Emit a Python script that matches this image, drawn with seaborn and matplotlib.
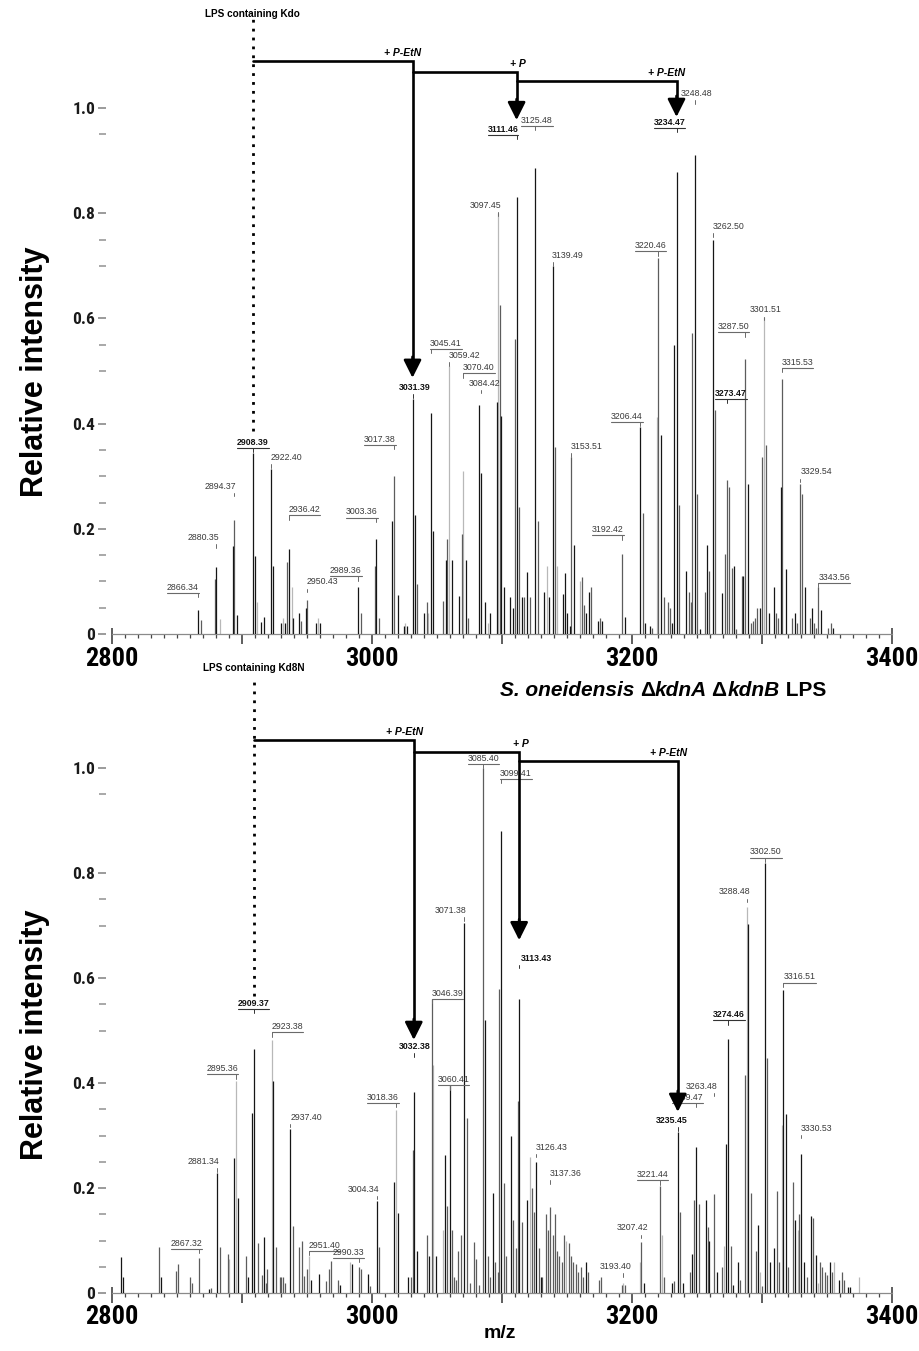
import numpy as np
import pandas as pd
import seaborn as sns
import matplotlib
matplotlib.use("Agg")
import matplotlib.pyplot as plt
from matplotlib import font_manager
from matplotlib.font_manager import FontProperties

# ---------------------------------------------------------------- data ----
# Top spectrum (LPS containing Kdo): m/z, relative intensity, stick tone
top_mz = [2866.34, 2868.5, 2879.2, 2880.35, 2883.0, 2893.4, 2894.37, 2896.6,
          2908.39, 2910.4, 2911.5, 2915.2, 2917.0, 2922.40, 2924.4, 2930.0,
          2931.5, 2933.3, 2935.0, 2936.42, 2938.5, 2939.2, 2944.0, 2946.0,
          2949.5, 2950.43, 2957.2, 2958.8, 2960.3, 2989.36, 2991.4, 3002.2,
          3003.36, 3005.8, 3015.8, 3017.38, 3020.5, 3024.5, 3026.0, 3027.5,
          3031.39, 3033.3, 3034.6, 3040.2, 3042.3, 3043.0, 3045.41, 3047.4,
          3054.6, 3057.0, 3058.3, 3059.42, 3061.8, 3067.4, 3069.3, 3070.40,
          3072.6, 3074.2, 3082.8, 3084.42, 3087.4, 3089.5, 3091.2, 3096.3,
          3097.45, 3098.4, 3099.7, 3102.0, 3106.7, 3108.5, 3110.0, 3111.46,
          3113.5, 3115.8, 3117.5, 3119.7, 3121.8, 3125.48, 3127.8, 3132.5,
          3134.6, 3136.2, 3139.49, 3141.3, 3142.5, 3146.8, 3148.8, 3150.5,
          3152.2, 3153.51, 3155.6, 3160.5, 3161.5, 3163.2, 3164.8, 3166.9,
          3168.7, 3174.0, 3175.5, 3177.2, 3192.42, 3195.2, 3206.44, 3208.4,
          3210.2, 3214.0, 3216.0, 3219.6, 3220.46, 3222.5, 3224.5, 3227.8,
          3229.5, 3231.3, 3232.4, 3234.47, 3236.4, 3242.0, 3244.0, 3245.3,
          3246.4, 3248.48, 3250.2, 3252.2, 3256.5, 3257.8, 3259.6, 3262.50,
          3264.3, 3269.4, 3271.4, 3273.47, 3274.9, 3276.8, 3278.8, 3280.5,
          3284.5, 3285.8, 3287.50, 3289.6, 3291.5, 3293.3, 3295.0, 3296.6,
          3298.5, 3300.0, 3301.51, 3303.4, 3305.3, 3309.1, 3311.0, 3312.5,
          3314.6, 3315.53, 3318.6, 3323.3, 3325.3, 3327.3, 3329.54, 3331.2,
          3333.0, 3337.0, 3338.6, 3340.5, 3342.0, 3343.56, 3345.8, 3351.2,
          3353.0, 3355.0]
top_intensity = [0.046, 0.027, 0.105, 0.127, 0.028, 0.168, 0.217, 0.036,
                 0.345, 0.148, 0.060, 0.023, 0.032, 0.314, 0.130, 0.020,
                 0.030, 0.020, 0.136, 0.161, 0.090, 0.030, 0.040, 0.025,
                 0.050, 0.065, 0.020, 0.030, 0.020, 0.090, 0.040, 0.130,
                 0.181, 0.030, 0.215, 0.300, 0.074, 0.015, 0.020, 0.015,
                 0.446, 0.226, 0.095, 0.040, 0.060, 0.040, 0.421, 0.195,
                 0.063, 0.140, 0.180, 0.510, 0.140, 0.073, 0.190, 0.310,
                 0.140, 0.030, 0.435, 0.307, 0.060, 0.020, 0.040, 0.442,
                 0.800, 0.625, 0.415, 0.090, 0.070, 0.050, 0.560, 0.830,
                 0.242, 0.070, 0.070, 0.117, 0.070, 0.885, 0.215, 0.080,
                 0.130, 0.070, 0.700, 0.356, 0.130, 0.076, 0.116, 0.040,
                 0.015, 0.336, 0.170, 0.100, 0.109, 0.055, 0.040, 0.080,
                 0.089, 0.025, 0.030, 0.025, 0.152, 0.033, 0.393, 0.230,
                 0.020, 0.015, 0.012, 0.413, 0.714, 0.378, 0.070, 0.060,
                 0.050, 0.020, 0.550, 0.878, 0.245, 0.120, 0.080, 0.060,
                 0.573, 0.910, 0.266, 0.010, 0.080, 0.169, 0.120, 0.750,
                 0.425, 0.078, 0.153, 0.293, 0.279, 0.125, 0.130, 0.010,
                 0.110, 0.110, 0.523, 0.286, 0.020, 0.025, 0.030, 0.050,
                 0.050, 0.337, 0.603, 0.360, 0.040, 0.090, 0.040, 0.030,
                 0.279, 0.484, 0.124, 0.030, 0.040, 0.020, 0.285, 0.266,
                 0.090, 0.030, 0.050, 0.020, 0.012, 0.089, 0.046, 0.012,
                 0.020, 0.012]
top_tone = [0, 1, 1, 0, 2, 0, 1, 0,
            0, 0, 2, 0, 0, 0, 0, 0,
            2, 0, 1, 0, 2, 0, 0, 1,
            0, 1, 0, 2, 0, 0, 1, 1,
            0, 1, 0, 1, 0, 0, 2, 0,
            0, 0, 1, 0, 1, 2, 0, 0,
            1, 0, 1, 2, 0, 0, 1, 2,
            0, 1, 0, 0, 0, 2, 0, 0,
            2, 1, 0, 0, 0, 0, 1, 0,
            1, 0, 1, 0, 1, 0, 1, 0,
            2, 0, 0, 1, 2, 0, 0, 0,
            0, 1, 0, 2, 1, 1, 0, 0,
            1, 0, 1, 0, 1, 0, 0, 1,
            0, 0, 1, 2, 1, 0, 1, 1,
            1, 0, 0, 0, 1, 0, 1, 1,
            1, 0, 1, 0, 1, 0, 1, 0,
            1, 0, 1, 1, 1, 1, 0, 1,
            1, 0, 1, 0, 1, 1, 1, 1,
            0, 1, 2, 1, 0, 0, 1, 1,
            0, 1, 0, 1, 0, 1, 1, 1,
            0, 1, 0, 1, 1, 1, 0, 1,
            1, 0]

# Bottom spectrum (LPS containing Kd8N)
bottom_mz = [2807.4, 2809.0, 2836.4, 2838.0, 2849.2, 2851.0, 2859.9, 2861.5,
             2867.32, 2874.5, 2876.3, 2881.34, 2883.0, 2889.2, 2890.5, 2894.3,
             2895.36, 2897.4, 2903.0, 2904.8, 2908.3, 2909.37, 2912.2, 2916.0,
             2917.4, 2918.4, 2919.3, 2923.38, 2924.4, 2926.3, 2929.5, 2930.6,
             2932.0, 2933.3, 2937.40, 2939.2, 2944.3, 2946.2, 2948.2, 2950.0,
             2951.40, 2953.3, 2959.6, 2965.0, 2966.8, 2968.6, 2974.0, 2976.0,
             2983.4, 2984.5, 2990.33, 2991.6, 2997.2, 2999.0, 3004.34, 3006.0,
             3017.4, 3018.36, 3020.5, 3028.3, 3029.9, 3031.5, 3032.38, 3035.2,
             3042.3, 3044.0, 3046.39, 3047.2, 3049.6, 3055.0, 3056.4, 3058.3,
             3060.41, 3061.8, 3063.5, 3065.0, 3066.5, 3068.5, 3071.38, 3073.3,
             3075.3, 3078.8, 3080.6, 3082.3, 3085.40, 3087.4, 3089.3, 3091.3,
             3093.3, 3095.2, 3096.8, 3098.2, 3099.41, 3101.6, 3103.4, 3107.3,
             3109.0, 3110.8, 3112.3, 3113.43, 3116.0, 3119.8, 3121.6, 3123.3,
             3124.8, 3126.43, 3128.5, 3130.2, 3131.2, 3134.1, 3135.9, 3137.36,
             3139.2, 3141.0, 3142.8, 3144.3, 3146.1, 3148.1, 3149.8, 3151.6,
             3153.3, 3155.1, 3157.0, 3158.9, 3160.7, 3162.6, 3164.8, 3166.5,
             3174.5, 3176.2, 3192.6, 3193.40, 3194.8, 3206.5, 3207.42, 3209.3,
             3221.44, 3223.3, 3224.8, 3230.8, 3232.5, 3235.45, 3237.5, 3239.3,
             3244.5, 3246.4, 3248.0, 3249.47, 3251.4, 3256.8, 3258.5, 3259.8,
             3263.48, 3265.4, 3269.5, 3270.8, 3272.5, 3274.46, 3276.5, 3278.3,
             3281.7, 3283.5, 3286.8, 3288.48, 3289.6, 3291.5, 3295.3, 3297.0,
             3298.8, 3300.5, 3302.50, 3304.4, 3306.2, 3309.8, 3311.5, 3313.3,
             3315.3, 3316.51, 3318.6, 3320.4, 3324.2, 3326.0, 3327.6, 3328.9,
             3330.53, 3332.5, 3334.5, 3337.7, 3339.5, 3341.4, 3343.2, 3345.2,
             3346.7, 3348.6, 3350.2, 3352.3, 3353.8, 3355.4, 3359.5, 3361.5,
             3363.3, 3366.5, 3368.2, 3375.0]
bottom_intensity = [0.069, 0.030, 0.088, 0.030, 0.042, 0.055, 0.030, 0.020,
                    0.066, 0.008, 0.010, 0.228, 0.088, 0.075, 0.065, 0.257,
                    0.403, 0.181, 0.070, 0.030, 0.342, 0.464, 0.095, 0.035,
                    0.107, 0.020, 0.045, 0.482, 0.403, 0.088, 0.030, 0.030,
                    0.030, 0.020, 0.312, 0.128, 0.087, 0.100, 0.032, 0.045,
                    0.070, 0.025, 0.037, 0.022, 0.045, 0.061, 0.025, 0.015,
                    0.060, 0.055, 0.050, 0.045, 0.037, 0.013, 0.175, 0.088,
                    0.211, 0.349, 0.153, 0.030, 0.030, 0.272, 0.383, 0.080,
                    0.110, 0.070, 0.560, 0.434, 0.070, 0.120, 0.263, 0.165,
                    0.396, 0.120, 0.030, 0.025, 0.080, 0.110, 0.705, 0.333,
                    0.020, 0.097, 0.065, 0.015, 1.000, 0.520, 0.070, 0.030,
                    0.191, 0.060, 0.040, 0.580, 0.880, 0.209, 0.070, 0.299,
                    0.140, 0.085, 0.366, 0.560, 0.136, 0.178, 0.260, 0.200,
                    0.155, 0.249, 0.085, 0.030, 0.030, 0.150, 0.120, 0.164,
                    0.110, 0.150, 0.080, 0.070, 0.060, 0.110, 0.100, 0.095,
                    0.070, 0.060, 0.055, 0.040, 0.050, 0.030, 0.060, 0.040,
                    0.025, 0.030, 0.015, 0.020, 0.015, 0.060, 0.097, 0.020,
                    0.204, 0.110, 0.030, 0.020, 0.022, 0.307, 0.154, 0.020,
                    0.040, 0.074, 0.178, 0.279, 0.170, 0.177, 0.126, 0.100,
                    0.188, 0.040, 0.050, 0.090, 0.283, 0.484, 0.090, 0.015,
                    0.060, 0.025, 0.415, 0.736, 0.703, 0.190, 0.080, 0.130,
                    0.040, 0.013, 0.820, 0.448, 0.060, 0.085, 0.194, 0.060,
                    0.320, 0.577, 0.341, 0.050, 0.212, 0.140, 0.120, 0.150,
                    0.265, 0.060, 0.030, 0.147, 0.142, 0.073, 0.020, 0.060,
                    0.050, 0.040, 0.035, 0.060, 0.040, 0.060, 0.025, 0.040,
                    0.025, 0.012, 0.012, 0.030]
bottom_tone = [0, 0, 1, 0, 1, 1, 1, 1,
               1, 0, 1, 0, 1, 1, 2, 0,
               2, 0, 1, 0, 0, 0, 1, 1,
               0, 1, 1, 2, 0, 1, 1, 1,
               1, 1, 0, 1, 1, 1, 1, 1,
               2, 0, 0, 1, 1, 1, 1, 0,
               2, 0, 1, 1, 0, 1, 0, 1,
               0, 2, 0, 0, 1, 1, 0, 0,
               1, 0, 1, 2, 0, 2, 0, 1,
               0, 1, 1, 1, 1, 1, 0, 1,
               1, 1, 1, 1, 1, 0, 1, 1,
               0, 1, 1, 1, 0, 1, 1, 0,
               1, 1, 1, 0, 1, 0, 2, 1,
               1, 0, 1, 0, 1, 1, 1, 1,
               1, 1, 1, 1, 1, 1, 2, 1,
               1, 1, 1, 1, 1, 1, 0, 1,
               1, 1, 1, 2, 1, 2, 1, 0,
               1, 2, 1, 0, 1, 0, 1, 0,
               1, 0, 1, 0, 1, 0, 1, 0,
               1, 0, 1, 2, 0, 0, 1, 0,
               0, 1, 1, 2, 0, 1, 1, 0,
               2, 1, 0, 1, 0, 0, 1, 1,
               2, 0, 0, 1, 1, 0, 2, 1,
               0, 0, 1, 0, 1, 0, 2, 1,
               1, 1, 1, 0, 1, 2, 0, 1,
               1, 0, 0, 2]

# Peak annotations (labelled m/z values)
top_label_values = [2866.34, 2880.35, 2894.37, 2908.39, 2922.40, 2936.42, 2950.43,
                    2989.36, 3003.36, 3017.38, 3031.39, 3045.41, 3059.42, 3070.40,
                    3084.42, 3097.45, 3111.46, 3125.48, 3139.49, 3153.51, 3192.42,
                    3206.44, 3220.46, 3234.47, 3248.48, 3262.50, 3273.47, 3287.50,
                    3301.51, 3315.53, 3329.54, 3343.56]
top_label_bold = [2908.39, 3031.39, 3111.46, 3234.47, 3273.47]
top_label_underlined = [2866.34, 2908.39, 2936.42, 2989.36, 3003.36, 3017.38,
                        3045.41, 3070.40, 3111.46, 3125.48, 3192.42, 3206.44,
                        3220.46, 3234.47, 3273.47, 3287.50, 3315.53, 3343.56]
bottom_label_values = [2867.32, 2881.34, 2895.36, 2909.37, 2923.38, 2937.40, 2951.40,
                       2990.33, 3004.34, 3018.36, 3032.38, 3046.39, 3060.41, 3071.38,
                       3085.40, 3099.41, 3113.43, 3126.43, 3137.36, 3193.40, 3207.42,
                       3221.44, 3235.45, 3249.47, 3263.48, 3274.46, 3288.48, 3302.50,
                       3316.51, 3330.53]
bottom_label_bold = [2909.37, 3032.38, 3113.43, 3235.45, 3274.46]
bottom_label_underlined = [2867.32, 2895.36, 2909.37, 2923.38, 2951.40, 2990.33,
                           3018.36, 3046.39, 3060.41, 3085.40, 3099.41, 3221.44,
                           3249.47, 3274.46, 3302.50, 3316.51]

# Modification pathway: start peak, then successive steps with their added group
top_path = [2908.39, 3031.39, 3111.46, 3234.47]
bottom_path = [2909.37, 3032.38, 3113.43, 3235.45]
path_steps = ["+ P-EtN", "+ P", "+ P-EtN"]

x_ticks = [2800, 2900, 3000, 3100, 3200, 3300, 3400]
x_tick_labels = ["2800", "", "3000", "", "3200", "", "3400"]
y_ticks = [0, 0.2, 0.4, 0.6, 0.8, 1.0]
y_tick_labels = ["0", "0.2", "0.4", "0.6", "0.8", "1.0"]
y_minor_ticks = [0.05, 0.1, 0.15, 0.25, 0.3, 0.35, 0.5, 0.55, 0.7, 0.75, 0.95]

# --------------------------------------------------------------- layout ---
# label anchor (centre) positions in data units, in label order
top_label_pos = [(2854.8, 0.089), (2870.2, 0.184), (2883.3, 0.281), (2908.7, 0.365),
                 (2934.6, 0.335), (2948.3, 0.236), (2962.3, 0.099), (2980.2, 0.120),
                 (2992.5, 0.232), (3006.4, 0.370), (3032.9, 0.468), (3057.2, 0.553),
                 (3071.4, 0.529), (3082.5, 0.506), (3086.8, 0.477), (3087.2, 0.814),
                 (3101.0, 0.960), (3127.2, 0.977), (3151.0, 0.719), (3165.2, 0.357),
                 (3181.8, 0.198), (3196.4, 0.414), (3214.5, 0.738), (3229.1, 0.973),
                 (3249.8, 1.027), (3274.5, 0.774), (3276.4, 0.458), (3278.3, 0.584),
                 (3303.3, 0.616), (3327.5, 0.517), (3342.5, 0.308), (3356.0, 0.108)]
bottom_label_pos = [(2857.5, 0.095), (2870.6, 0.250), (2885.2, 0.427), (2909.1, 0.552),
                    (2935.2, 0.507), (2949.5, 0.335), (2963.7, 0.091), (2982.2, 0.078),
                    (2993.7, 0.198), (3008.7, 0.373), (3033.3, 0.469), (3058.3, 0.571),
                    (3062.9, 0.406), (3061.0, 0.728), (3086.0, 1.019), (3111.0, 0.990),
                    (3126.4, 0.638), (3138.7, 0.278), (3149.1, 0.227), (3187.5, 0.051),
                    (3201.0, 0.124), (3216.0, 0.225), (3230.6, 0.328), (3242.9, 0.373),
                    (3254.1, 0.394), (3274.8, 0.530), (3279.1, 0.764), (3303.3, 0.840),
                    (3329.1, 0.602), (3342.5, 0.314)]

W, H = 920, 1351
AX_L, AX_R = 111.7, 891.7
TONES = {0: "#151515", 1: "#5c5c5c", 2: "#b8b8b8"}

sns.set_theme(style="white")
plt.rcParams["font.family"] = ["Liberation Sans", "DejaVu Sans"]


def find_condensed_bold():
    """Return the file of a bold narrow/condensed sans face if one is installed."""
    best = None
    for f in font_manager.fontManager.ttflist:
        name = f.name.lower()
        fname = f.fname.lower()
        narrow = ("narrow" in name or "condensed" in name or "narrow" in fname
                  or "condensed" in fname or str(f.stretch) in ("condensed", "semi-condensed"))
        if not narrow:
            continue
        w = f.weight if isinstance(f.weight, int) else 700 if "bold" in str(f.weight) else 400
        if w < 600 or "italic" in str(f.style) or "oblique" in str(f.style):
            continue
        rank = 0 if "liberation" in name else 1 if "roboto" in name else 2 if "dejavu" in name else 3
        if best is None or rank < best[0]:
            best = (rank, f.fname)
    return best[1] if best else None


COND_FILE = find_condensed_bold()


def axis_font(size):
    if COND_FILE:
        return FontProperties(fname=COND_FILE, size=size)
    return FontProperties(family="Liberation Sans", weight="bold", size=size * 0.86)


fig = plt.figure(figsize=(W / 100, H / 100), dpi=100)
fig.patch.set_facecolor("white")


def make_axes(zero_px, px_per_unit):
    ymax = 1.2
    bottom = 1 - zero_px / H
    height = ymax * px_per_unit / H
    ax = fig.add_axes([AX_L / W, bottom, (AX_R - AX_L) / W, height])
    ax.patch.set_alpha(0.0)
    ax.set_xlim(2800, 3400)
    ax.set_ylim(0, ymax)
    return ax


def style_axes(ax):
    for s in ("top", "right"):
        ax.spines[s].set_visible(False)
    ax.spines["left"].set_position(("outward", 4))
    ax.spines["left"].set_visible(False)
    ax.spines["bottom"].set_color("#8a8a8a")
    ax.spines["bottom"].set_linewidth(0.9)
    ax.set_xticks(x_ticks)
    ax.set_xticklabels(x_tick_labels)
    ax.set_xticks(np.arange(2800, 3401, 10), minor=True)
    ax.set_yticks(y_ticks)
    ax.set_yticklabels(y_tick_labels)
    ax.set_yticks(y_minor_ticks, minor=True)
    ax.tick_params(axis="x", which="major", direction="out", length=7, width=1.1,
                   color="#333333", pad=2, bottom=True)
    ax.tick_params(axis="x", which="minor", direction="out", length=3, width=0.9,
                   color="#444444", bottom=True)
    ax.tick_params(axis="y", which="major", direction="out", length=6, width=1.2,
                   color="#8a8a8a", pad=2, left=True)
    ax.tick_params(axis="y", which="minor", direction="out", length=5, width=1.2,
                   color="#9a9a9a", left=True)
    for lab in ax.get_xticklabels():
        lab.set_fontproperties(axis_font(19))
        lab.set_color("black")
    for lab in ax.get_yticklabels():
        lab.set_fontproperties(axis_font(12.5))
        lab.set_color("#1a1a1a")
    # end ticks of the m/z axis rise above the baseline
    lo, hi = ax.get_xlim()
    ax.vlines([lo, hi], 0, 0.012, colors="#333333", lw=1.1, clip_on=False)
    ax.set_xlabel("")
    ax.set_ylabel("")
    ax.grid(False)


def draw_sticks(ax, mz, inten, tone):
    df = pd.DataFrame({"mz": mz, "intensity": inten, "tone": tone})
    df = df.sort_values("tone", ascending=False)
    for t, grp in df.groupby("tone", sort=False):
        ax.vlines(grp["mz"], 0, grp["intensity"], colors=TONES[t], lw=0.9, zorder=2 + (2 - t))


def draw_labels(ax, values, positions, bold, underlined, renderer):
    inv = ax.transData.inverted()
    for val, (cx, cy) in zip(values, positions):
        is_bold = val in bold
        t = ax.text(cx, cy, f"{val:.2f}", ha="center", va="center", fontsize=6.3,
                    fontweight="bold" if is_bold else "normal",
                    color="#111111" if is_bold else "#3a3a3a", zorder=6)
        bb = t.get_window_extent(renderer)
        (x0, y0), (x1, y1) = inv.transform([[bb.x0, bb.y0], [bb.x1, bb.y1]])
        line_y = y0 - 0.002
        col = "#333333" if is_bold else "#6a6a6a"
        if val in underlined:
            left, right = min(x0, val), max(x1, val)
            ax.plot([left, right], [line_y, line_y], color=col, lw=0.8, zorder=6)
            ax.plot([val, val], [line_y, line_y - 0.008], color=col, lw=0.7, zorder=6)
        elif x0 - 1 <= val <= x1 + 1:
            ax.plot([val, val], [line_y - 0.002, line_y - 0.009], color=col, lw=0.7, zorder=6)


def draw_path(ax, path, levels, tips, dot_top, dot_bottom, title, title_y):
    start = path[0]
    ax.plot([start, start], [dot_bottom, dot_top], color="black", lw=2.0,
            linestyle=(0, (1, 2.2)), clip_on=False, zorder=7)
    ax.text(start, title_y, title, ha="center", va="center", fontsize=7.2,
            fontweight="bold", color="black", zorder=7, clip_on=False)
    prev = start
    for nxt, lev, tip, step in zip(path[1:], levels, tips, path_steps):
        ax.plot([prev, nxt, nxt], [lev, lev, tip + 0.03], color="black", lw=1.9,
                solid_joinstyle="miter", clip_on=False, zorder=7)
        ax.annotate("", xy=(nxt, tip), xytext=(nxt, tip + 0.04),
                    arrowprops=dict(arrowstyle="-|>,head_width=0.45,head_length=0.9",
                                    color="black", lw=1.9, shrinkA=0, shrinkB=0),
                    zorder=8, annotation_clip=False)
        ax.text(nxt + 7, lev + 0.006, step, ha="right", va="bottom", fontsize=7.5,
                fontweight="bold", fontstyle="italic", color="black", zorder=8)
        prev = nxt


ax_top = make_axes(634, 526)
ax_bot = make_axes(1293, 525)
for ax in (ax_top, ax_bot):
    style_axes(ax)

draw_sticks(ax_top, top_mz, top_intensity, top_tone)
draw_sticks(ax_bot, bottom_mz, bottom_intensity, bottom_tone)

fig.canvas.draw()
renderer = fig.canvas.get_renderer()
draw_labels(ax_top, top_label_values, top_label_pos, set(top_label_bold),
            set(top_label_underlined), renderer)
draw_labels(ax_bot, bottom_label_values, bottom_label_pos, set(bottom_label_bold),
            set(bottom_label_underlined), renderer)

draw_path(ax_top, top_path, [1.089, 1.068, 1.051], [0.487, 0.977, 0.983],
          1.171, 0.385, "LPS containing Kdo", 1.179)
draw_path(ax_bot, bottom_path, [1.053, 1.030, 1.013], [0.482, 0.672, 0.345],
          1.168, 0.565, "LPS containing Kd8N", 1.190)

# Axis titles
for cy in (372, 1035):
    fig.text(35 / W, 1 - cy / H, "Relative intensity", rotation=90, ha="center",
             va="center", fontsize=22, fontweight="bold", color="black")
fig.text(500 / W, 1 - 1334 / H, "m/z", ha="center", va="center", fontsize=14,
         fontweight="bold", color="black")

# Strain title with mixed italic / upright runs
pieces = [("S. oneidensis ", "italic"), ("\u0394", "normal"), ("kdnA", "italic"),
          (" \u0394", "normal"), ("kdnB", "italic"), (" LPS", "normal")]
x_px = 500.0
fig.canvas.draw()
renderer = fig.canvas.get_renderer()
for txt, style in pieces:
    t = fig.text(x_px / W, 1 - 690 / H, txt, ha="left", va="center", fontsize=15,
                 fontweight="bold", fontstyle=style, color="black")
    bb = t.get_window_extent(renderer)
    x_px += bb.width

fig.savefig("out.png", dpi=100, facecolor="white")
